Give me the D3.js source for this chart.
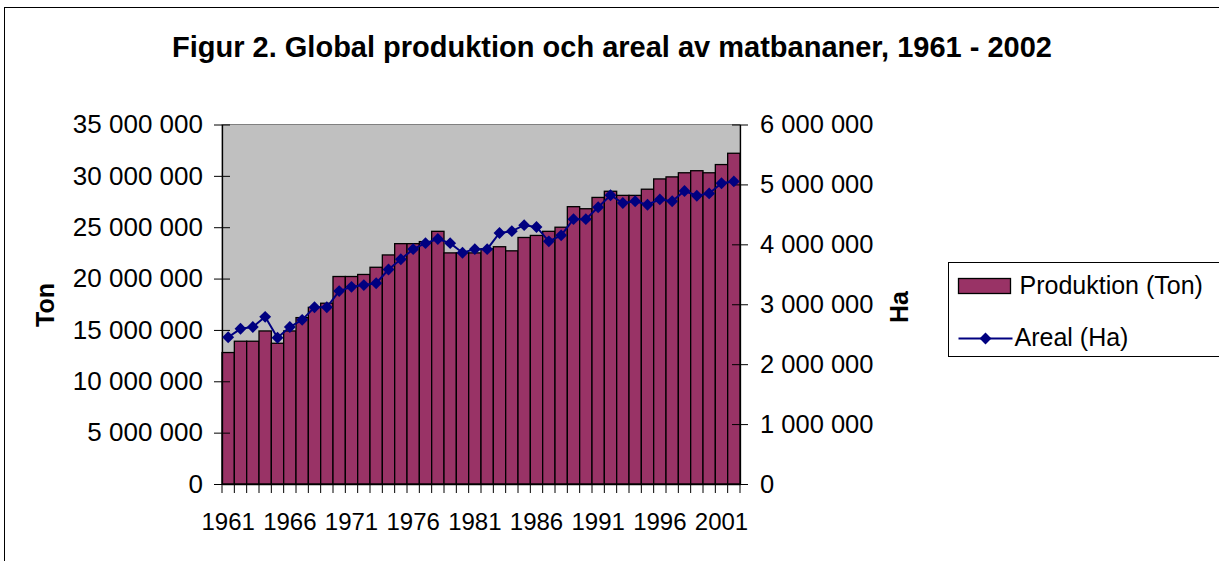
<!DOCTYPE html>
<html>
<head>
<meta charset="utf-8">
<script src="https://cdn.jsdelivr.net/npm/d3@7"></script>
<style>
  body { margin: 0; background: #fff; }
  text { font-family: "Liberation Sans", Arial, sans-serif; }
</style>
</head>
<body>
<script>
// Data
const years = d3.range(1961, 2003);
const yearLabels = [1961, 1966, 1971, 1976, 1981, 1986, 1991, 1996, 2001];

// Produktion (Ton)
const production = [
    12800000, 13900000, 13900000, 14900000, 13700000, 14900000, 16200000, 17200000,
    17600000, 20200000, 20200000, 20400000, 21100000, 22300000, 23400000, 23400000,
    23600000, 24600000, 22500000, 22500000, 22500000, 22900000, 23100000, 22700000,
    24000000, 24200000, 24600000, 25000000, 27000000, 26800000, 27900000, 28500000,
    28100000, 28100000, 28700000, 29700000, 29900000, 30300000, 30500000, 30300000,
    31100000, 32200000
];

// Areal (Ha)
const area = [
    2450000, 2590000, 2620000, 2790000, 2440000, 2620000, 2740000, 2950000,
    2950000, 3220000, 3290000, 3320000, 3350000, 3580000, 3750000, 3920000,
    4020000, 4090000, 4020000, 3860000, 3920000, 3920000, 4190000, 4220000,
    4320000, 4290000, 4050000, 4150000, 4420000, 4420000, 4620000, 4820000,
    4690000, 4720000, 4660000, 4750000, 4720000, 4890000, 4810000, 4850000,
    5020000, 5050000
];

const leftTicks = [0, 5000000, 10000000, 15000000, 20000000, 25000000, 30000000, 35000000];
const rightTicks = [0, 1000000, 2000000, 3000000, 4000000, 5000000, 6000000];

const data = years.map((y, i) => ({ year: y, prod: production[i], area: area[i] }));

const W = 1219, H = 561;
const plot = { left: 222, right: 740, top: 124.5, bottom: 484 };

const svg = d3.select("body").append("svg")
    .attr("width", W)
    .attr("height", H);

// Outer frame
svg.append("rect")
    .attr("x", 4.5).attr("y", 7.5)
    .attr("width", 1230).attr("height", 570)
    .attr("fill", "#fff")
    .attr("stroke", "#000");

// Scales
const x = d3.scaleBand()
    .domain(years)
    .range([plot.left, plot.right])
    .padding(0);

const yLeft = d3.scaleLinear()
    .domain([0, 35000000])
    .range([plot.bottom, plot.top]);

const yRight = d3.scaleLinear()
    .domain([0, 6000000])
    .range([plot.bottom, plot.top]);

const fmt = v => d3.format(",")(v).replace(/,/g, " ");

// Plot background
svg.append("rect")
    .attr("x", plot.left).attr("y", plot.top)
    .attr("width", plot.right - plot.left)
    .attr("height", plot.bottom - plot.top)
    .attr("fill", "#c0c0c0")
    .attr("stroke", "#808080");

// Bars
svg.selectAll(".bar")
    .data(data)
    .enter()
    .append("rect")
    .attr("class", "bar")
    .attr("x", d => x(d.year))
    .attr("y", d => yLeft(d.prod))
    .attr("width", x.bandwidth())
    .attr("height", d => yLeft(0) - yLeft(d.prod))
    .attr("fill", "#993366")
    .attr("stroke", "#000")
    .attr("stroke-width", 1.3);

// Left axis
const leftAxis = svg.append("g")
    .attr("transform", `translate(${plot.left},0)`)
    .call(d3.axisLeft(yLeft).tickValues(leftTicks).tickFormat(fmt).tickSize(0).tickPadding(19));
leftAxis.select(".domain").attr("stroke", "#000").attr("stroke-width", 1.3);
leftAxis.selectAll(".tick line").remove();
leftAxis.selectAll(".tick").append("line")
    .attr("x1", -8).attr("x2", 8)
    .attr("stroke", "#000");
leftAxis.selectAll(".tick text")
    .attr("font-size", 26)
    .attr("font-family", "Liberation Sans, Arial, sans-serif")
    .attr("fill", "#000");

// Right axis
const rightAxis = svg.append("g")
    .attr("transform", `translate(${plot.right},0)`)
    .call(d3.axisRight(yRight).tickValues(rightTicks).tickFormat(fmt).tickSize(0).tickPadding(20));
rightAxis.select(".domain").attr("stroke", "#000").attr("stroke-width", 1.3);
rightAxis.selectAll(".tick line").remove();
rightAxis.selectAll(".tick").append("line")
    .attr("x1", -8).attr("x2", 8)
    .attr("stroke", "#000");
rightAxis.selectAll(".tick text")
    .attr("font-size", 25.5)
    .attr("font-family", "Liberation Sans, Arial, sans-serif")
    .attr("fill", "#000");

// Bottom axis: ticks at category boundaries, labels every fifth year
const bottomAxis = svg.append("g")
    .attr("transform", `translate(0,${plot.bottom})`)
    .call(d3.axisBottom(x).tickValues(yearLabels).tickSize(0).tickPadding(29));
bottomAxis.select(".domain").attr("stroke", "#000").attr("stroke-width", 1.3);
bottomAxis.selectAll(".tick text")
    .attr("font-size", 24)
    .attr("font-family", "Liberation Sans, Arial, sans-serif")
    .attr("fill", "#000");
bottomAxis.selectAll(".boundary")
    .data(years.concat([null]))
    .enter()
    .append("line")
    .attr("class", "boundary")
    .attr("x1", d => d === null ? plot.right : x(d))
    .attr("x2", d => d === null ? plot.right : x(d))
    .attr("y1", 0).attr("y2", 9)
    .attr("stroke", "#000");

// Areal line with diamonds
const line = d3.line()
    .x(d => x(d.year) + x.bandwidth() / 2)
    .y(d => yRight(d.area));

svg.append("path")
    .datum(data)
    .attr("d", line)
    .attr("fill", "none")
    .attr("stroke", "#000080")
    .attr("stroke-width", 2);

const diamond = d3.symbol().type(d3.symbolDiamond2).size(90);
svg.selectAll(".pt")
    .data(data)
    .enter()
    .append("path")
    .attr("class", "pt")
    .attr("transform", d => `translate(${x(d.year) + x.bandwidth() / 2},${yRight(d.area)})`)
    .attr("d", diamond)
    .attr("fill", "#000080");

// Title
svg.append("text")
    .attr("x", 612)
    .attr("y", 57)
    .attr("text-anchor", "middle")
    .attr("font-size", 29)
    .attr("font-weight", "bold")
    .text("Figur 2. Global produktion och areal av matbananer, 1961 - 2002");

// Axis titles
svg.append("text")
    .attr("transform", "translate(54,305) rotate(-90)")
    .attr("text-anchor", "middle")
    .attr("font-size", 25)
    .attr("font-weight", "bold")
    .text("Ton");

svg.append("text")
    .attr("transform", "translate(908,307) rotate(-90)")
    .attr("text-anchor", "middle")
    .attr("font-size", 25)
    .attr("font-weight", "bold")
    .text("Ha");

// Legend
const legend = svg.append("g").attr("transform", "translate(948.5,262.5)");
legend.append("rect")
    .attr("width", 272).attr("height", 94)
    .attr("fill", "#fff")
    .attr("stroke", "#000");
legend.append("rect")
    .attr("x", 10).attr("y", 16)
    .attr("width", 52).attr("height", 15)
    .attr("fill", "#993366")
    .attr("stroke", "#000")
    .attr("stroke-width", 1.3);
legend.append("text")
    .attr("x", 71).attr("y", 31)
    .attr("font-size", 25)
    .text("Produktion (Ton)");
legend.append("line")
    .attr("x1", 10).attr("x2", 64)
    .attr("y1", 76).attr("y2", 76)
    .attr("stroke", "#000080")
    .attr("stroke-width", 2);
legend.append("path")
    .attr("transform", "translate(37,76)")
    .attr("d", diamond)
    .attr("fill", "#000080");
legend.append("text")
    .attr("x", 66).attr("y", 83)
    .attr("font-size", 25)
    .text("Areal (Ha)");
</script>
</body>
</html>
